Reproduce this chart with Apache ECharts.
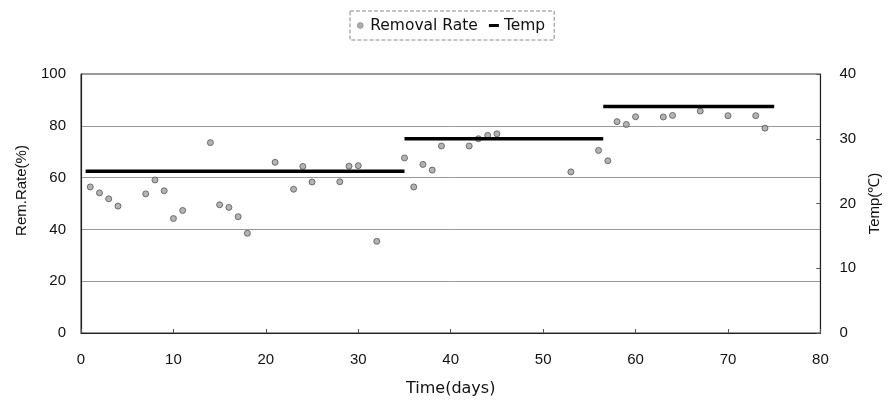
<!DOCTYPE html>
<html>
<head>
<meta charset="utf-8">
<script src="https://cdn.jsdelivr.net/npm/echarts@6/dist/echarts.min.js"></script>
<style>html,body{margin:0;padding:0;background:#fff}#c{width:890px;height:402px}</style>
</head>
<body>
<div id="c"></div>
<script>
var days = [1,2,3,4,7,8,9,10,11,14,15,16,17,18,21,23,24,25,28,29,30,32,35,36,37,38,39,42,43,44,45,53,56,57,58,59,60,63,64,67,70,73,74];
var removalRate = [56.4,54.1,51.8,49.0,53.7,59.1,54.9,44.2,47.3,73.5,49.5,48.5,44.9,38.5,65.9,55.5,64.3,58.3,58.4,64.4,64.6,35.4,67.6,56.4,65.1,62.9,72.2,72.2,75.0,76.3,76.9,62.2,70.5,66.5,81.6,80.5,83.5,83.4,84.0,85.7,83.9,83.9,79.1];
var tempStart = [0.5, 35, 56.5];
var tempEnd = [35, 56.5, 75];
var tempValue = [25, 30, 35];

var rateData = days.map(function(d,i){ return [d, removalRate[i]]; });
var tempData = [];
for (var i = 0; i < tempValue.length; i++) {
  if (i > 0) tempData.push([tempStart[i], '-']);
  tempData.push([tempStart[i], tempValue[i]]);
  tempData.push([tempEnd[i], tempValue[i]]);
}

var FONT = '"Liberation Sans", Arial, sans-serif';
var WIDE = '"DejaVu Sans", sans-serif';
var chart = echarts.init(document.getElementById('c'), null, {renderer:'canvas'});
chart.setOption({
  animation: false,
  textStyle: {fontFamily: FONT, color: '#111'},
  legend: {
    top: 11, left: 350,
    borderColor: '#888', borderWidth: 1, borderType: 'dashed',
    padding: [5, 9, 5, 7],
    itemWidth: 10, itemHeight: 6, itemGap: 11,
    textStyle: {fontSize: 15.5, fontFamily: WIDE, color: '#111', lineHeight: 19},
    data: [
      {name: 'Removal Rate', icon: 'circle', itemStyle: {color: '#999', borderColor: '#666', borderWidth: 0.5}},
      {name: 'Temp', icon: 'path://M0,0H10V3H0Z'}
    ]
  },
  grid: {left: 81, right: 61, top: 74, bottom: 66, show: true, borderColor: '#333', borderWidth: 1},
  xAxis: {
    type: 'value', min: 0, max: 80, interval: 10,
    name: 'Time(days)', nameLocation: 'middle', nameGap: 48,
    nameTextStyle: {fontSize: 16, fontFamily: WIDE, color: '#111'},
    axisLine: {show: true, lineStyle: {color: '#222', width: 1.2}},
    axisTick: {show: true, inside: true, length: 4, lineStyle: {color: '#555'}},
    axisLabel: {fontSize: 15, color: '#111', margin: 19, fontFamily: FONT},
    splitLine: {show: false}
  },
  yAxis: [{
    type: 'value', min: 0, max: 100, interval: 20,
    name: 'Rem.Rate(%)', nameLocation: 'middle', nameGap: 52,
    nameTextStyle: {fontSize: 15, fontFamily: FONT, color: '#111', padding: [0, 0, 0, 26]},
    axisLine: {show: true, lineStyle: {color: '#222', width: 1.2}},
    axisTick: {show: false},
    axisLabel: {fontSize: 15, color: '#111', margin: 15, fontFamily: FONT},
    splitLine: {show: true, lineStyle: {color: '#999', width: 1}}
  }, {
    type: 'value', min: 0, max: 40, interval: 10, position: 'right',
    name: 'Temp(℃)', nameLocation: 'middle', nameGap: 43,
    nameTextStyle: {fontSize: 15, fontFamily: FONT, color: '#111'},
    axisLine: {show: true, lineStyle: {color: '#222', width: 1.2}},
    axisTick: {show: true, inside: true, length: 4, lineStyle: {color: '#555'}},
    axisLabel: {fontSize: 15, color: '#111', margin: 19, fontFamily: FONT},
    splitLine: {show: false}
  }],
  series: [{
    name: 'Removal Rate', type: 'scatter', yAxisIndex: 0,
    data: rateData, symbol: 'circle', symbolSize: 6,
    itemStyle: {color: '#a0a0a0', borderColor: '#555', borderWidth: 1}
  }, {
    name: 'Temp', type: 'line', yAxisIndex: 1,
    data: tempData, showSymbol: false, symbol: 'none', connectNulls: false,
    lineStyle: {color: '#000', width: 3.5},
    itemStyle: {color: '#000'}
  }]
});
</script>
</body>
</html>
